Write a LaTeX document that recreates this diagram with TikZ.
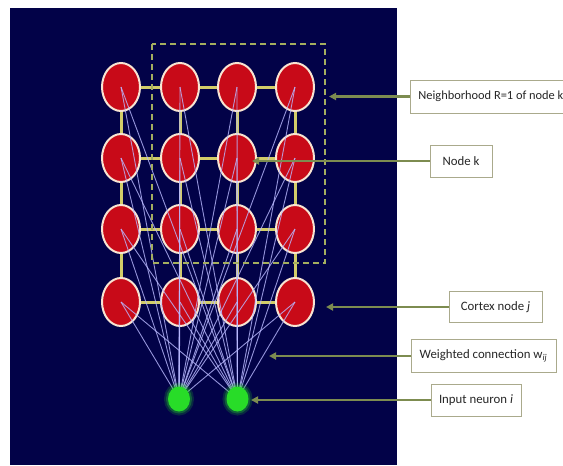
\documentclass[tikz,border=0pt]{standalone}
\usepackage{fontspec}
\setmainfont{Carlito}
\usetikzlibrary{arrows.meta,shapes.geometric}

\definecolor{panel}{RGB}{2,2,72}
\definecolor{cortex}{RGB}{200,10,24}
\definecolor{rim}{RGB}{248,228,210}
\definecolor{gridline}{RGB}{210,205,105}
\definecolor{hood}{RGB}{165,175,95}
\definecolor{weight}{RGB}{185,185,255}
\definecolor{inputg}{RGB}{40,220,40}
\definecolor{pointer}{RGB}{125,140,80}
\definecolor{boxframe}{RGB}{170,170,140}

\pgfdeclarelayer{back}
\pgfdeclarelayer{front}
\pgfsetlayers{back,main,front}

\tikzset{
  cortexnode/.style={ellipse, fill=cortex, draw=rim, line width=2pt,
    minimum width=38pt, minimum height=48pt, inner sep=0pt},
  inputnode/.style={ellipse, fill=inputg, minimum width=22pt, minimum height=25pt,
    inner sep=0pt,
    preaction={draw=inputg, draw opacity=0.18, line width=8pt},
    preaction={draw=inputg, draw opacity=0.3, line width=4pt}},
  lattice/.style={draw=gridline, line width=3pt},
  weightline/.style={draw=weight, line width=0.9pt, opacity=0.8},
  hoodframe/.style={draw=hood, line width=1.5pt, dash pattern=on 6pt off 4pt},
  pointer/.style={draw=pointer, line width=2.2pt, -{Triangle[length=7pt,width=7pt]}},
  labelbox/.style={draw=boxframe, fill=white, line width=0.8pt, inner xsep=8pt,
    minimum height=32pt, font=\fontsize{12.8}{15}\selectfont, text=black!85},
}

\begin{document}
\begin{tikzpicture}[x=1pt,y=-1pt]
  \useasboundingbox (0,0) rectangle (563,466);
  \clip (0,0) rectangle (563,466);

  % dark panel behind the network
  \begin{pgfonlayer}{back}
    \fill[panel] (10,8) rectangle (397,465);
  \end{pgfonlayer}

  % 4x4 cortex lattice
  \foreach \r/\y in {1/87,2/158,3/229,4/302}{
    \foreach \c/\x in {1/121,2/180,3/237,4/295}{
      \node[cortexnode] (c\r\c) at (\x,\y) {};
    }
  }

  % input neurons
  \begin{pgfonlayer}{front}
    \node[inputnode] (g1) at (179,399) {};
    \node[inputnode] (g2) at (237.5,399) {};
  \end{pgfonlayer}

  % lattice links between neighbouring cortex nodes
  \begin{pgfonlayer}{back}
    \foreach \r in {1,2,3,4}{
      \draw[lattice] (c\r1.center) -- (c\r2.center) -- (c\r3.center) -- (c\r4.center);
    }
    \foreach \c in {1,2,3,4}{
      \draw[lattice] (c1\c.center) -- (c2\c.center) -- (c3\c.center) -- (c4\c.center);
    }
  \end{pgfonlayer}

  % weighted connections from every input neuron to every cortex node
  \foreach \g in {g1,g2}{
    \foreach \r in {1,2,3,4}{
      \foreach \c in {1,2,3,4}{
        \draw[weightline] (\g.center) -- (c\r\c.center);
      }
    }
  }

  % neighbourhood of node k
  \draw[hoodframe] (152,44) rectangle (325,263);

  % labels
  \node[labelbox, anchor=west, inner xsep=8pt, minimum height=33pt,
        font=\fontsize{12.4}{15}\selectfont] (lhood) at (410,96.5)
    {Neighborhood R=1 of node k};
  \node[labelbox, minimum width=62pt] (lnodek) at (461,161) {Node k};
  \node[labelbox, minimum width=93pt, minimum height=31pt] (lcortex) at (495.5,307)
    {Cortex node \textit{j}};
  \node[labelbox, minimum width=145pt, minimum height=33pt] (lweight) at (483.5,356)
    {Weighted connection w\textsubscript{\textit{ij}}};
  \node[labelbox, minimum width=88pt] (linput) at (476,400) {Input neuron \textit{i}};

  % pointer tips
  \coordinate (thood) at (329,96.5);
  \coordinate (tnodek) at (252,161);
  \coordinate (tcortex) at (326,307);
  \coordinate (tweight) at (269,356);
  \coordinate (tinput) at (251,400);

  \draw[pointer] (lhood.west) -- (thood);
  \draw[pointer] (lnodek.west) -- (tnodek);
  \draw[pointer] (lcortex.west) -- (tcortex);
  \draw[pointer] (lweight.west) -- (tweight);
  \draw[pointer] (linput.west) -- (tinput);
\end{tikzpicture}
\end{document}
